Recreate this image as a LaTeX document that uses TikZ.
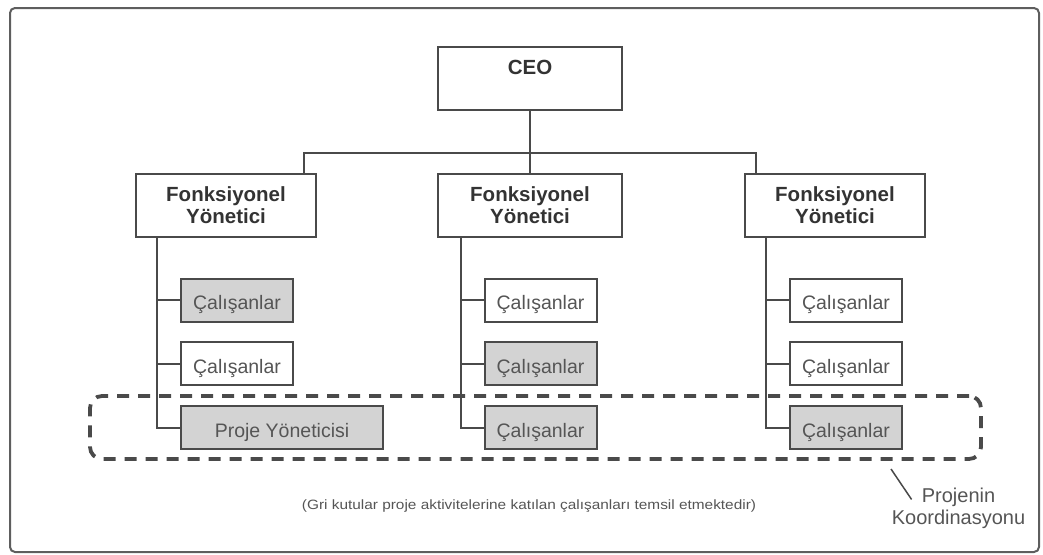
\documentclass[tikz,border=0pt]{standalone}
\usepackage{fontspec}
\setmainfont{Liberation Sans}
\newfontfamily\capfont{Liberation Sans}[FakeStretch=1.14]
\usetikzlibrary{calc}
\definecolor{boxline}{HTML}{4A4A4A}
\definecolor{boxtext}{HTML}{333333}
\definecolor{softtext}{HTML}{555555}
\definecolor{boxfill}{HTML}{D3D3D3}
\definecolor{framegray}{HTML}{5E5E5E}
\begin{document}
\begin{tikzpicture}[x=1pt,y=-1pt,
  every node/.style={inner sep=0pt},
  headbox/.style={draw=boxline,line width=2pt,fill=white,minimum height=63pt,
    font=\fontsize{20.5}{22}\selectfont\bfseries,text=boxtext,align=center},
  staffbox/.style={draw=boxline,line width=2pt,fill=white,minimum width=112pt,
    minimum height=43pt,text height=19pt,text depth=0pt,
    font=\fontsize{19.5}{22}\selectfont,text=softtext},
  graybox/.style={staffbox,fill=boxfill},
  link/.style={draw=boxline,line width=2pt}]
\useasboundingbox (0,0) rectangle (1043,554);
% frame
\draw[framegray,line width=2pt,rounded corners=5pt] (10,8) rectangle (1039,552);
% top of the chart
\node[headbox,minimum width=184pt,text depth=23pt] (ceo) at (530,78.5) {CEO};
\node[headbox,minimum width=180pt] (mgr1) at (226,205.5) {Fonksiyonel\\Yönetici};
\node[headbox,minimum width=184pt] (mgr2) at (530,205.5) {Fonksiyonel\\Yönetici};
\node[headbox,minimum width=180pt] (mgr3) at (835,205.5) {Fonksiyonel\\Yönetici};
% lines from CEO to the managers
\coordinate (busL) at (304,152.5);
\coordinate (busR) at (756,152.5);
\draw[link] (ceo.south) -- (mgr2.north);
\draw[link] (busL |- mgr1.north) -- (busL) -- (busR) -- (busR |- mgr3.north);
% staff of the first manager
\node[graybox] (s11) at (237,300) {Çalışanlar};
\node[staffbox] (s12) at (237,363.5) {Çalışanlar};
\node[graybox,minimum width=202pt] (s13) at (282,427.5) {Proje Yöneticisi};
% staff of the second manager
\node[staffbox] (s21) at (540.5,300) {Çalışanlar};
\node[graybox] (s22) at (540.5,363.5) {Çalışanlar};
\node[graybox] (s23) at (540.5,427.5) {Çalışanlar};
% staff of the third manager
\node[staffbox] (s31) at (846,300) {Çalışanlar};
\node[staffbox] (s32) at (846,363.5) {Çalışanlar};
\node[graybox] (s33) at (846,427.5) {Çalışanlar};
% trunk lines
\coordinate (t1) at ($(mgr1.south west)+(22,0)$);
\coordinate (t2) at ($(mgr2.south west)+(24,0)$);
\coordinate (t3) at ($(mgr3.south west)+(22,0)$);
\draw[link] (t1) |- (s13.west);
\draw[link] (s11.west) -- (s11.west -| t1);
\draw[link] (s12.west) -- (s12.west -| t1);
\draw[link] (t2) |- (s23.west);
\draw[link] (s21.west) -- (s21.west -| t2);
\draw[link] (s22.west) -- (s22.west -| t2);
\draw[link] (t3) |- (s33.west);
\draw[link] (s31.west) -- (s31.west -| t3);
\draw[link] (s32.west) -- (s32.west -| t3);
% project coordination zone
\node[draw=boxline,line width=3.8pt,dash pattern=on 12pt off 9pt,rounded corners=12pt,
  minimum width=891pt,minimum height=63pt] (zone) at (535.5,427.5) {};
\node[font=\fontsize{20}{22}\selectfont,text=softtext,align=center] (zonenote) at (958.5,508)
  {Projenin\\Koordinasyonu};
\coordinate (lead) at (891,469);
\draw[boxline,line width=1.5pt] (lead) -- ($(zonenote.north west)+(20,12)$);
% caption
\node[font=\capfont\fontsize{13.5}{15}\selectfont,text=softtext] (caption) at (529,506)
  {(Gri kutular proje aktivitelerine katılan çalışanları temsil etmektedir)};
\end{tikzpicture}
\end{document}
